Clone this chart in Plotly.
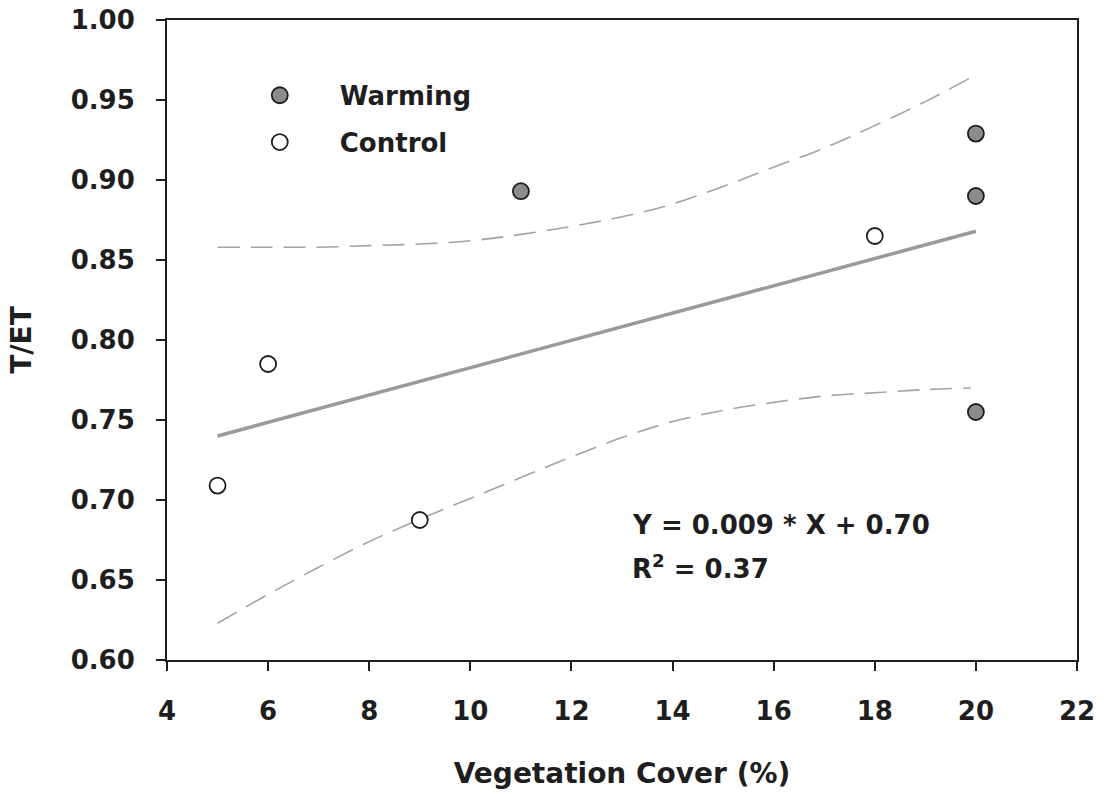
import plotly.graph_objects as go

# --- datos ---
warming_x = [11, 20, 20, 20]
warming_y = [0.893, 0.929, 0.890, 0.755]

control_x = [5, 6, 9, 18]
control_y = [0.709, 0.785, 0.6875, 0.865]

# recta de regresión
fit_x = [5, 20]
fit_y = [0.740, 0.868]

# bandas de confianza (líneas discontinuas)
upper_x = [5, 6, 7, 8, 9, 10, 11, 12, 13, 14, 15, 16, 17, 18, 19, 19.9]
upper_y = [0.858, 0.858, 0.858, 0.859, 0.860, 0.862, 0.866, 0.871, 0.877, 0.885, 0.896, 0.908,
           0.920, 0.934, 0.949, 0.964]

lower_x = [5, 6, 7, 8, 9, 10, 11, 12, 13, 14, 15, 16, 17, 18, 19, 19.9]
lower_y = [0.623, 0.641, 0.658, 0.674, 0.688, 0.701, 0.714, 0.727, 0.739, 0.749, 0.756, 0.761,
           0.765, 0.767, 0.769, 0.770]

x_ticks = [4, 6, 8, 10, 12, 14, 16, 18, 20, 22]
y_ticks = [0.60, 0.65, 0.70, 0.75, 0.80, 0.85, 0.90, 0.95, 1.00]

FONT = "DejaVu Sans"
INK = "#1e1e1e"

fig = go.Figure()

fig.add_trace(go.Scatter(x=upper_x, y=upper_y, mode="lines", showlegend=False,
                         line=dict(color="#a3a3a3", width=1.6, dash="22px,11px", shape="spline")))
fig.add_trace(go.Scatter(x=lower_x, y=lower_y, mode="lines", showlegend=False,
                         line=dict(color="#a3a3a3", width=1.6, dash="22px,11px", shape="spline")))
fig.add_trace(go.Scatter(x=fit_x, y=fit_y, mode="lines", showlegend=False,
                         line=dict(color="#9a9a9a", width=3.5)))

fig.add_trace(go.Scatter(x=warming_x, y=warming_y, mode="markers", name="Warming",
                         legendgroup="w",
                         marker=dict(size=16, color="#8c8c8e", line=dict(color=INK, width=1.8))))
fig.add_trace(go.Scatter(x=control_x, y=control_y, mode="markers", name="Control",
                         legendgroup="c",
                         marker=dict(size=16, color="white", line=dict(color=INK, width=1.8))))

axis_common = dict(
    showline=True, linecolor=INK, linewidth=2, mirror=True,
    ticks="outside", ticklen=9, tickwidth=2, tickcolor=INK,
    showgrid=False, zeroline=False, automargin=False, ticklabeloverflow="allow",
    tickfont=dict(family=FONT, size=26, color=INK, weight="bold"),
)

fig.update_xaxes(range=[4, 22], tickvals=x_ticks, ticklabelstandoff=18,
                 title=dict(text="Vegetation Cover (%)", standoff=38,
                            font=dict(family=FONT, size=28, color=INK, weight="bold")),
                 **axis_common)
fig.update_yaxes(range=[0.60, 1.00], tickvals=y_ticks, tickformat=".2f", ticklabelstandoff=16,
                 title=dict(text="T/ET", standoff=31,
                            font=dict(family=FONT, size=28, color=INK, weight="bold")),
                 **axis_common)

fig.add_annotation(xref="paper", yref="paper", x=0.509, y=0.211, xanchor="left", yanchor="middle",
                   text="Y = 0.009 * X + 0.70", showarrow=False,
                   font=dict(family=FONT, size=26, color=INK, weight="bold"))
fig.add_annotation(xref="paper", yref="paper", x=0.509, y=0.145, xanchor="left", yanchor="middle",
                   text="R<sup>2</sup> = 0.37", showarrow=False,
                   font=dict(family=FONT, size=26, color=INK, weight="bold"))

fig.update_layout(
    width=1104, height=794,
    margin=dict(l=167, r=27, t=20, b=134),
    paper_bgcolor="white", plot_bgcolor="white",
    showlegend=True,
    legend=dict(x=0.058, y=0.919, xanchor="left", yanchor="top",
                bgcolor="rgba(0,0,0,0)", itemwidth=110, tracegroupgap=10,
                font=dict(family=FONT, size=26, color=INK, weight="bold")),
)

# se quita el margen por defecto del <body> para que la figura ocupe la ventana
fig.write_html("out.html", config={"displayModeBar": False},
               post_script="document.body.style.margin = '0';")
